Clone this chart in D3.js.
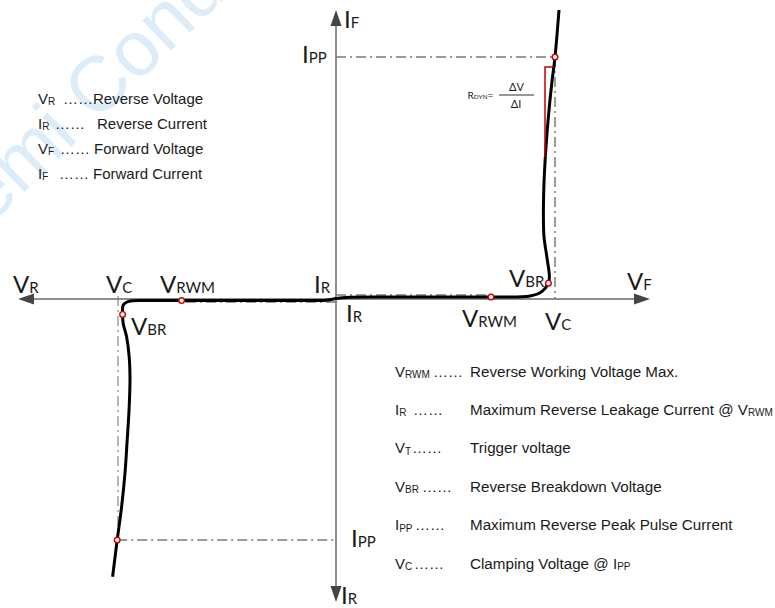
<!DOCTYPE html>
<html><head><meta charset="utf-8">
<script src="https://cdn.jsdelivr.net/npm/d3@7"></script>
<style>body{margin:0;background:#fff}svg{display:block}</style>
</head><body>
<svg id="c" width="775" height="608"></svg>
<script>
// ---- data (schematic units: voltage on x, current on y, origin = 0,0) ----
const xAxisEnds = [-15.9, 15.7];
const yAxisEnds = [-15.15, 14.45];

// I-V characteristic curve (reverse branch bottom-left -> forward branch top-right)
const curveV = [-11.17,-10.94,-10.72,-10.55,-10.44,-10.34,-10.30,-10.34,-10.47,-10.64,-10.67,-10.64,-10.45,-10.15,-9.65,-7.72,-3.0,-0.5,0,0.5,3.0,7.75,9.70,10.29,10.62,10.67,10.54,10.40,10.37,10.40,10.49,10.62,10.79,10.95,11.15];
const curveI = [-13.89,-12.05,-10.39,-8.70,-7.05,-5.39,-3.89,-2.89,-1.89,-1.22,-0.77,-0.30,-0.15,-0.09,-0.08,-0.08,-0.07,-0.06,0.02,0.08,0.10,0.10,0.15,0.37,0.79,1.12,2.12,3.12,4.12,5.80,7.45,9.12,10.80,12.10,14.45];

// marked points
const markerNames = ["IPP(+)","VBR(+)","VRWM(+)","VRWM(-)","VBR(-)","IPP(-)"];
const markerV = [10.95, 10.62, 7.75, -7.72, -10.67, -10.94];
const markerI = [12.10, 0.79, 0.10, -0.08, -0.77, -12.05];

// dash-dot reference lines [v1, i1, v2, i2]
const refLines = [
  [0, 12.10, 10.95, 12.10],
  [10.95, 12.10, 10.95, 0],
  [0, 0.20, 7.75, 0.20],
  [0, -0.15, -7.72, -0.15],
  [-10.90, 0.15, -10.90, -12.05],
  [-10.94, -12.05, 0, -12.05]
];

// dynamic resistance triangle
const rdynV = [10.45, 10.45, 10.90];
const rdynI = [7.10, 11.60, 11.60];

// axis / point labels: main letter, subscript, anchor (v, i)
const labelMain = ["V","V","V","I","I","V","V","V","V","V","I","I","I","I"];
const labelSub  = ["R","C","RWM","R","R","BR","BR","F","RWM","C","F","PP","PP","R"];
const labelV = [-16.15,-11.5,-8.8,-1.1,0.5,-10.25,8.65,14.55,6.3,10.45,0.4,-1.7,0.75,0.25];
const labelI = [0.3,0.3,0.3,0.3,-1.15,-1.8,0.6,0.45,-1.4,-1.55,13.55,11.8,-12.4,-15.25];

// legends
const legendLeftSym = ["V","I","V","I"];
const legendLeftSub = ["R","R","F","F"];
const legendLeftDesc = ["Reverse Voltage","Reverse Current","Forward Voltage","Forward Current"];
const legendRightSym = ["V","I","V","V","I","V"];
const legendRightSub = ["RWM","R","T","BR","PP","C"];
const legendRightDesc = ["Reverse Working Voltage Max.","Maximum Reverse Leakage Current @ V","Trigger  voltage","Reverse Breakdown Voltage","Maximum Reverse Peak Pulse Current","Clamping Voltage @ I"];
const legendRightDescSub = ["","RWM","","","","PP"];

// ---- drawing ----
const svg = d3.select("#c");
const x = d3.scaleLinear().domain([-16, 16]).range([16, 656]);
const y = d3.scaleLinear().domain([-15, 15]).range([599, -1]);

// watermark
svg.append("text").attr("x", -48).attr("y", 262)
  .attr("transform", "rotate(-44,-48,262)")
  .attr("font-family", "Liberation Sans, Arial, sans-serif").attr("font-size", 78)
  .attr("fill", "#dcecf9").text("Semi Conductor");

const axisColor = "#6a6a6a", arrowColor = "#454545";
// axes
svg.append("line").attr("x1", x(xAxisEnds[0]) + 10).attr("x2", x(xAxisEnds[1]) - 10)
  .attr("y1", y(0)).attr("y2", y(0)).attr("stroke", axisColor).attr("stroke-width", 1.5);
svg.append("line").attr("y1", y(yAxisEnds[1]) + 10).attr("y2", y(yAxisEnds[0]) - 10)
  .attr("x1", x(0)).attr("x2", x(0)).attr("stroke", axisColor).attr("stroke-width", 1.5);
function arrow(tx, ty, dx, dy) { // tip and unit direction pointing to tip
  const L = 16, W = 5.5;
  const bx = tx - dx * L, by = ty - dy * L;
  const px = -dy, py = dx;
  return `M${tx},${ty}L${bx + px * W},${by + py * W}L${bx - px * W},${by - py * W}Z`;
}
[[x(xAxisEnds[1]), y(0), 1, 0], [x(xAxisEnds[0]), y(0), -1, 0],
 [x(0), y(yAxisEnds[1]), 0, -1], [x(0), y(yAxisEnds[0]), 0, 1]].forEach(a => {
  svg.append("path").attr("d", arrow(...a)).attr("fill", arrowColor);
});

// reference dash-dot lines
svg.append("g").selectAll("line").data(refLines).join("line")
  .attr("x1", d => x(d[0])).attr("y1", d => y(d[1]))
  .attr("x2", d => x(d[2])).attr("y2", d => y(d[3]))
  .attr("stroke", "#7a7a7a").attr("stroke-width", (d, i) => (i === 4 ? 1.1 : 1.5))
  .attr("stroke-dasharray", "10,4,2,4");

// curve
const pts = curveV.map((v, i) => [v, curveI[i]]);
svg.append("path").datum(pts)
  .attr("d", d3.line().x(d => x(d[0])).y(d => y(d[1])).curve(d3.curveCatmullRom.alpha(0.5)))
  .attr("fill", "none").attr("stroke", "#000").attr("stroke-width", 3)
  .attr("stroke-linejoin", "round").attr("stroke-linecap", "butt");

// RDYN triangle
svg.append("path").datum(rdynV.map((v, i) => [v, rdynI[i]]))
  .attr("d", d3.line().x(d => x(d[0])).y(d => y(d[1])))
  .attr("fill", "none").attr("stroke", "#c00000").attr("stroke-width", 1.5);

// markers
svg.append("g").selectAll("circle").data(markerNames).join("circle")
  .attr("cx", (d, i) => x(markerV[i])).attr("cy", (d, i) => y(markerI[i]))
  .attr("r", 2.8).attr("fill", "#fff").attr("stroke", "#d00000").attr("stroke-width", 1.4);

// labels (Calibri-like)
const lab = svg.append("g").attr("font-family", "Lato, Carlito, sans-serif").attr("fill", "#1a1a1a");
labelMain.forEach((m, i) => {
  const t = lab.append("text").attr("x", x(labelV[i])).attr("y", y(labelI[i]));
  t.append("tspan").attr("font-size", 24).text(m);
  t.append("tspan").attr("font-size", 15).text(labelSub[i]);
});

// RDYN formula
const f = svg.append("g").attr("font-family", "Lato, Carlito, sans-serif").attr("fill", "#1a1a1a");
const ft = f.append("text").attr("x", 467.5).attr("y", 98.5);
ft.append("tspan").attr("font-size", 10).text("R");
ft.append("tspan").attr("font-size", 6.5).text("DYN");
ft.append("tspan").attr("font-size", 10).text("=");
f.append("line").attr("x1", 499).attr("x2", 534).attr("y1", 95).attr("y2", 95).attr("stroke", "#1a1a1a").attr("stroke-width", 0.9);
f.append("text").attr("x", 516.5).attr("y", 91).attr("text-anchor", "middle").attr("font-size", 11).text("ΔV");
f.append("text").attr("x", 516).attr("y", 108).attr("text-anchor", "middle").attr("font-size", 11).text("ΔI");

// left legend
const lg = svg.append("g").attr("font-family", "Liberation Sans, Arial, sans-serif").attr("fill", "#1a1a1a");
const leftDotsX = [63, 55, 60, 59], leftDescX = [93, 97, 94, 93];
legendLeftSym.forEach((s, i) => {
  const by = 103.5 + i * 25.3;
  const t = lg.append("text").attr("x", 38).attr("y", by).attr("font-size", 15);
  t.append("tspan").text(s);
  t.append("tspan").attr("font-size", 10).attr("dy", 1).text(legendLeftSub[i]);
  lg.append("text").attr("x", leftDotsX[i]).attr("y", by).attr("font-size", 15).text("……");
  lg.append("text").attr("x", leftDescX[i]).attr("y", by).attr("font-size", 15).text(legendLeftDesc[i]);
});

// right legend
const rg = svg.append("g").attr("font-family", "Liberation Sans, Arial, sans-serif").attr("fill", "#1a1a1a");
const rightDotsX = [433, 413, 412, 422, 415, 414];
legendRightSym.forEach((s, i) => {
  const by = 376.5 + i * 38.4;
  const t = rg.append("text").attr("x", 395).attr("y", by).attr("font-size", 15);
  t.append("tspan").text(s);
  t.append("tspan").attr("font-size", 10).attr("dy", 1.5).text(legendRightSub[i]);
  rg.append("text").attr("x", rightDotsX[i]).attr("y", by).attr("font-size", 15).text("……");
  const d = rg.append("text").attr("x", 470).attr("y", by).attr("font-size", 15.2);
  d.append("tspan").text(legendRightDesc[i]);
  if (legendRightDescSub[i]) d.append("tspan").attr("font-size", 10).attr("dy", 1.5).text(legendRightDescSub[i]);
});
</script>
</body></html>
